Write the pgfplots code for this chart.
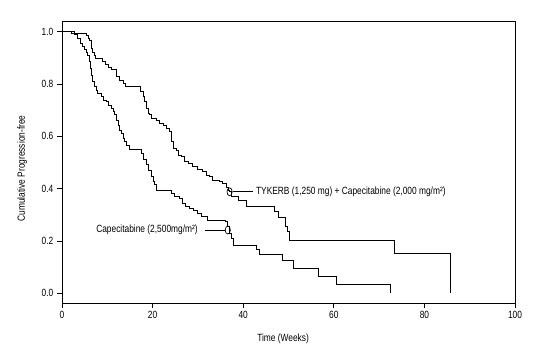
\documentclass[border=0pt]{standalone}
\usepackage{fontspec}
\setmainfont{Liberation Sans}[FakeStretch=0.8]
\usepackage{pgfplots}
\pgfplotsset{compat=1.18}
\begin{document}
\fontsize{10.5}{12}\selectfont
\begin{tikzpicture}
\begin{axis}[
  name=ax,
  scale only axis,
  width=453bp, height=282bp,
  xmin=0, xmax=100, ymin=-0.037, ymax=1.041,
  xtick={0,20,40,60,80,100},
  ytick={0,0.2,0.4,0.6,0.8,1.0},
  yticklabel style={/pgf/number format/fixed,/pgf/number format/fixed zerofill,/pgf/number format/precision=1},
  /pgf/number format/assume math mode=true,
  tick align=outside, tick pos=left,
  major tick length=5bp,
  axis line style={line width=0.8pt},
  every tick/.style={line width=0.8pt,black},
  ticklabel style={font=\fontsize{10.5}{12}\selectfont},
  xlabel={Time (Weeks)},
  ylabel={Cumulative Progression-free},
  xlabel style={at={(axis description cs:0.488,-0.128)},anchor=center,font=\fontsize{10.5}{12}\selectfont},
  ylabel style={at={(axis description cs:-0.088,0.477)},anchor=center,rotate=0,font=\fontsize{10.5}{12}\selectfont},
  clip=false,
]
% TYKERB + Capecitabine
\addplot[const plot mark left, line width=0.85pt, black] coordinates {
(0,1.0) (2.1,0.995) (5.0,0.992) (5.4,0.986) (5.8,0.976) (6.1,0.965) (6.4,0.950) (6.6,0.935) (6.8,0.919) (7.2,0.910) (7.4,0.897)
(9.0,0.887) (9.6,0.875) (10.2,0.862) (11.0,0.854) (12.0,0.828) (12.7,0.815) (13.6,0.803) (14.1,0.790)
(17.4,0.771) (17.9,0.752) (18.3,0.732) (18.6,0.707) (19.0,0.688) (19.4,0.682) (19.7,0.669) (20.8,0.662) (21.6,0.650)
(22.3,0.643) (23.0,0.631) (23.8,0.618) (24.1,0.580) (24.5,0.554) (25.3,0.548) (25.6,0.529) (26.4,0.522) (27.1,0.503)
(27.8,0.497) (28.9,0.484) (30.0,0.474) (31.1,0.465) (31.9,0.452) (32.6,0.446) (33.3,0.433) (34.8,0.427) (35.5,0.420)
(36.3,0.405) (36.7,0.395) (37.0,0.388) (37.4,0.369) (39.0,0.357) (40.8,0.333) (46.8,0.312) (47.7,0.289) (49.3,0.255)
(49.7,0.236) (50.1,0.204) (73.4,0.153) (85.7,0.0)
};
% Capecitabine
\addplot[const plot mark left, line width=0.85pt, black] coordinates {
(0,1.0) (2.8,0.989) (3.5,0.975) (4.1,0.957) (4.6,0.944) (5.0,0.931) (5.4,0.919) (5.7,0.910) (6.0,0.899) (6.1,0.887)
(6.3,0.861) (6.5,0.845) (6.6,0.834) (6.8,0.809) (7.1,0.790) (7.6,0.777) (7.9,0.765) (8.7,0.752) (9.1,0.739) (9.8,0.732)
(10.2,0.720) (10.9,0.707) (11.3,0.694) (11.6,0.682) (12.0,0.660) (12.4,0.643) (12.7,0.624) (13.1,0.612) (13.5,0.593)
(13.8,0.580) (14.2,0.567) (14.9,0.550) (17.5,0.535) (17.9,0.510) (18.6,0.492) (19.0,0.469) (19.7,0.446) (20.1,0.427)
(20.4,0.415) (20.8,0.395) (24.1,0.382) (24.8,0.372) (26.0,0.363) (26.5,0.344) (27.3,0.331) (28.2,0.325) (29.0,0.318)
(30.0,0.306) (30.8,0.293) (32.0,0.280) (36.0,0.274) (36.6,0.255) (37.0,0.229) (37.4,0.210) (37.8,0.185) (43.0,0.168)
(43.5,0.150) (48.6,0.127) (51.0,0.096) (56.5,0.064) (60.5,0.035) (72.4,0.0)
};
% annotation circles and leaders
\addplot[only marks, mark=o, mark size=4, mark options={xscale=0.65, line width=0.7pt}, black] coordinates {(37.0,0.388) (36.6,0.242)};
\addplot[line width=0.7pt, black] coordinates {(37.7,0.388) (42.1,0.388)};
\addplot[line width=0.7pt, black] coordinates {(31.5,0.242) (36.0,0.242)};
\node[anchor=west, inner sep=0pt] at (axis cs:42.8,0.390) {TYKERB (1,250 mg) + Capecitabine (2,000 mg/m²)};
\node[anchor=east, inner sep=0pt] at (axis cs:30.0,0.244) {Capecitabine (2,500mg/m²)};
\end{axis}
\path (ax.south west) ++(-62bp,-60bp);
\path (ax.north east) ++(21bp,21bp);
\end{tikzpicture}
\end{document}
